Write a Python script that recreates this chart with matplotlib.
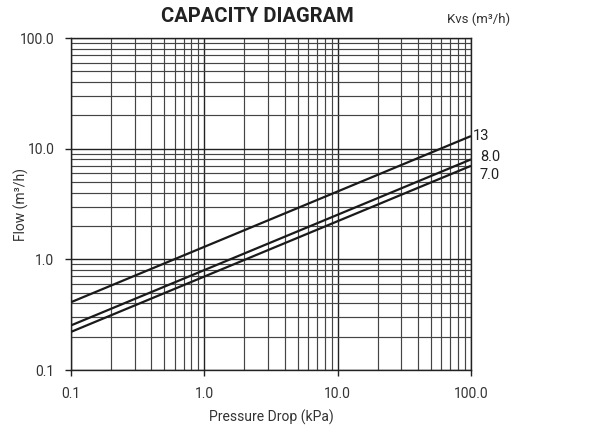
import matplotlib
matplotlib.use('Agg')
import matplotlib.pyplot as plt
from matplotlib.ticker import FixedLocator, NullFormatter, LogLocator

# data
kvs_labels = ['13', '8.0', '7.0']
dp_ends = [0.1, 100.0]          # kPa
flow_13 = [0.41, 13.0]
flow_8 = [0.253, 8.0]
flow_7 = [0.221, 7.0]
x_ticks = [0.1, 1.0, 10.0, 100.0]
x_ticklabels = ['0.1', '1.0', '10.0', '100.0']
y_ticks = [0.1, 1.0, 10.0, 100.0]
y_ticklabels = ['0.1', '1.0', '10.0', '100.0']

plt.rcParams['font.family'] = ['Roboto', 'DejaVu Sans']

fig = plt.figure(figsize=(6.09, 4.28), dpi=100)
ax = fig.add_axes([0.1166, 0.1355, 0.6568, 0.7757])

ax.set_xscale('log')
ax.set_yscale('log')
ax.set_xlim(0.1, 100)
ax.set_ylim(0.1, 100)

for fl in [flow_13, flow_8, flow_7]:
    ax.plot(dp_ends, fl, color='#1a1a1a', lw=1.6, solid_capstyle='butt', zorder=3)

# grid
ax.xaxis.set_minor_locator(LogLocator(base=10, subs=range(2, 10)))
ax.yaxis.set_minor_locator(LogLocator(base=10, subs=range(2, 10)))
ax.xaxis.set_minor_formatter(NullFormatter())
ax.yaxis.set_minor_formatter(NullFormatter())
ax.grid(True, which='major', color='#222222', lw=1.0)
ax.grid(True, which='minor', color='#444444', lw=0.85)
ax.tick_params(which='minor', length=0)
ax.tick_params(which='major', length=4, width=1.0, color='#222222',
               labelsize=10, labelcolor='#333333')
ax.tick_params(axis='x', which='major', pad=8)
ax.tick_params(axis='y', which='major', pad=8)

ax.xaxis.set_major_locator(FixedLocator(x_ticks))
ax.set_xticklabels(x_ticklabels)
ax.yaxis.set_major_locator(FixedLocator(y_ticks))
ax.set_yticklabels(y_ticklabels)

for s in ax.spines.values():
    s.set_color('#222222')
    s.set_linewidth(1.0)

ax.set_xlabel('Pressure Drop (kPa)', fontsize=10, color='#333333', va='center')
ax.xaxis.set_label_coords(0.5, -0.142)
ax.set_ylabel('Flow (m³/h)', fontsize=10, color='#333333', va='center')
ax.yaxis.set_label_coords(-0.125, 0.5)

# right-side kvs labels
ytr = ax.get_yaxis_transform()
ax.text(1.004, 13.0 * 1.01, kvs_labels[0], transform=ytr,
        fontsize=10.5, color='#222222', va='center', ha='left')
ax.text(1.022, 8.0 * 1.05, kvs_labels[1], transform=ytr,
        fontsize=10.5, color='#222222', va='center', ha='left')
ax.text(1.022, 7.0 * 0.82, kvs_labels[2], transform=ytr,
        fontsize=10.5, color='#222222', va='center', ha='left')

fig.text(0.423, 0.962, 'CAPACITY DIAGRAM', fontsize=14.5, fontweight='bold',
         color='#222222', ha='center', va='center')
fig.text(0.785, 0.955, 'Kvs (m³/h)', fontsize=9.5, color='#333333',
         ha='center', va='center')

fig.savefig('out.png', dpi=100)
